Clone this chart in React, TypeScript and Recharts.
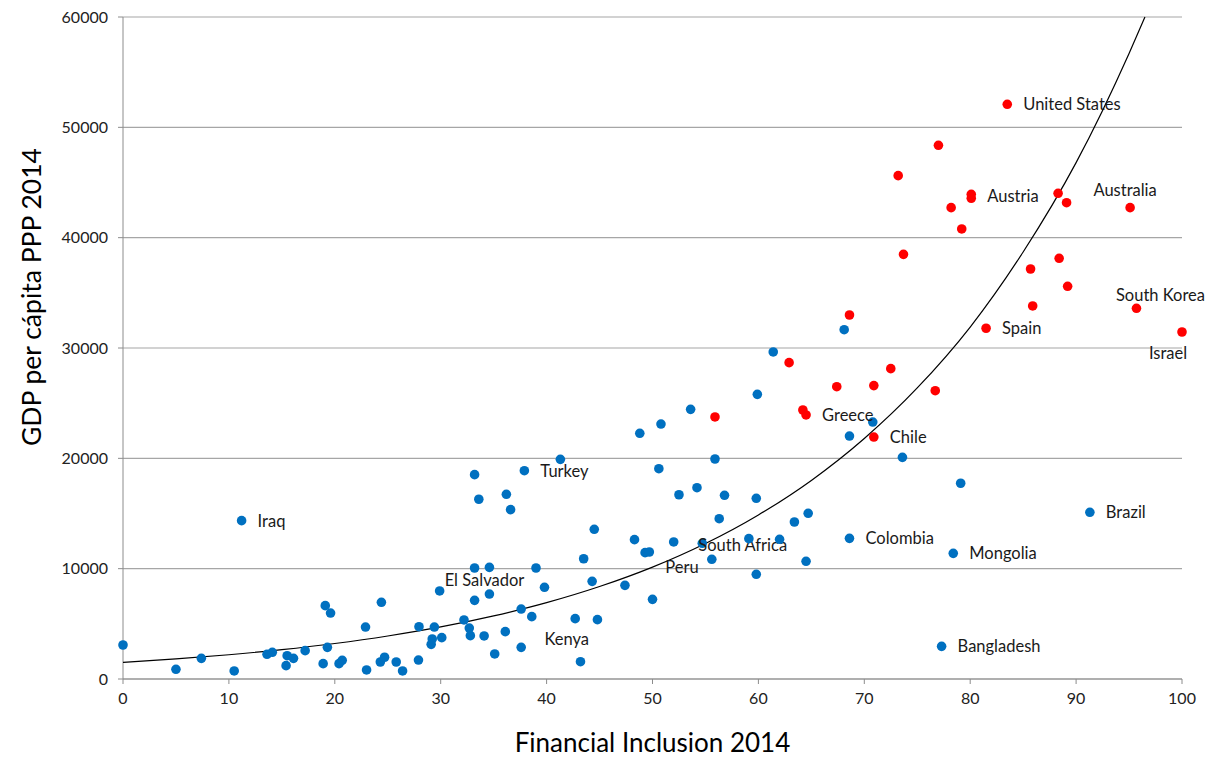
import { ScatterChart, Scatter, XAxis, YAxis, CartesianGrid } from "recharts";

// Financial inclusion (x) vs GDP per capita PPP (y), 2014
type Pt = { x: number; y: number; name?: string };

const blueCountries: Pt[] = [
  { x: 0, y: 3080 }, { x: 5.0, y: 880 }, { x: 7.4, y: 1870 }, { x: 10.5, y: 730 },
  { x: 11.2, y: 14350, name: "Iraq" }, { x: 13.6, y: 2240 }, { x: 14.1, y: 2420 },
  { x: 15.4, y: 1210 }, { x: 15.5, y: 2110 }, { x: 16.1, y: 1870 }, { x: 17.2, y: 2570 },
  { x: 18.9, y: 1390 }, { x: 19.1, y: 6650 }, { x: 19.3, y: 2870 }, { x: 19.6, y: 5980 },
  { x: 20.4, y: 1390 }, { x: 20.7, y: 1690 }, { x: 22.9, y: 4710 }, { x: 23.0, y: 820 },
  { x: 24.3, y: 1540 }, { x: 24.4, y: 6950 }, { x: 24.7, y: 1970 }, { x: 25.8, y: 1540 },
  { x: 26.4, y: 730 }, { x: 27.9, y: 1720 }, { x: 27.95, y: 4740 }, { x: 29.1, y: 3140 },
  { x: 29.2, y: 3630 }, { x: 29.4, y: 4710 }, { x: 29.9, y: 7980, name: "El Salvador" },
  { x: 30.1, y: 3750 }, { x: 32.2, y: 5350 }, { x: 32.7, y: 4620 }, { x: 32.8, y: 3930 },
  { x: 33.2, y: 10060 }, { x: 33.2, y: 7130 }, { x: 33.2, y: 18520 }, { x: 33.6, y: 16290 },
  { x: 34.1, y: 3900 }, { x: 34.6, y: 10120 }, { x: 34.6, y: 7700 }, { x: 35.1, y: 2270 },
  { x: 36.1, y: 4290 }, { x: 36.2, y: 16740 }, { x: 36.6, y: 15350 }, { x: 37.6, y: 6340 },
  { x: 37.6, y: 2870 }, { x: 37.9, y: 18880, name: "Turkey" }, { x: 38.6, y: 5650 },
  { x: 39.0, y: 10060 }, { x: 39.8, y: 8310 }, { x: 41.3, y: 19910 }, { x: 42.7, y: 5470 },
  { x: 43.2, y: 1570, name: "Kenya" }, { x: 43.5, y: 10900 }, { x: 44.3, y: 8850 },
  { x: 44.5, y: 13570 }, { x: 44.8, y: 5380 }, { x: 47.4, y: 8490 }, { x: 48.3, y: 12630 },
  { x: 48.8, y: 22270 }, { x: 49.3, y: 11450 }, { x: 49.7, y: 11510, name: "Peru" },
  { x: 50.0, y: 7220 }, { x: 50.6, y: 19060 }, { x: 50.8, y: 23110 }, { x: 52.0, y: 12420 },
  { x: 52.5, y: 16700 }, { x: 53.6, y: 24440 }, { x: 54.2, y: 17340 },
  { x: 54.7, y: 12300, name: "South Africa" }, { x: 55.6, y: 10850 }, { x: 55.9, y: 19940 },
  { x: 56.3, y: 14530 }, { x: 56.8, y: 16650 }, { x: 59.1, y: 12720 }, { x: 59.8, y: 16380 },
  { x: 59.8, y: 9490 }, { x: 59.9, y: 25800 }, { x: 61.4, y: 29640 }, { x: 62.0, y: 12660 },
  { x: 63.4, y: 14230 }, { x: 64.5, y: 10670 }, { x: 64.7, y: 15020 }, { x: 68.1, y: 31660 },
  { x: 68.6, y: 12750, name: "Colombia" }, { x: 68.6, y: 22020 }, { x: 70.8, y: 23290 },
  { x: 73.6, y: 20090 }, { x: 77.3, y: 2960, name: "Bangladesh" },
  { x: 78.4, y: 11390, name: "Mongolia" }, { x: 79.1, y: 17740 },
  { x: 91.3, y: 15110, name: "Brazil" },
];

const redCountries: Pt[] = [
  { x: 55.9, y: 23750 }, { x: 62.9, y: 28670 }, { x: 64.2, y: 24380 },
  { x: 64.5, y: 23930, name: "Greece" }, { x: 67.4, y: 26490 }, { x: 68.6, y: 32990 },
  { x: 70.9, y: 26590 }, { x: 70.9, y: 21930, name: "Chile" }, { x: 72.5, y: 28130 },
  { x: 73.2, y: 45620 }, { x: 73.7, y: 38490 }, { x: 76.7, y: 26130 }, { x: 77.0, y: 48370 },
  { x: 78.2, y: 42720 }, { x: 79.2, y: 40790 }, { x: 80.1, y: 43930, name: "Austria" },
  { x: 80.1, y: 43570 }, { x: 81.5, y: 31790, name: "Spain" },
  { x: 83.5, y: 52090, name: "United States" }, { x: 85.7, y: 37160 }, { x: 85.9, y: 33810 },
  { x: 88.3, y: 44020 }, { x: 88.4, y: 38130 }, { x: 89.1, y: 43170 }, { x: 89.2, y: 35590 },
  { x: 95.1, y: 42720, name: "Australia" }, { x: 95.7, y: 33600, name: "South Korea" },
  { x: 100, y: 31450, name: "Israel" },
];

// exponential trendline
const trendX = [0, 5, 10, 15, 20, 25, 30, 35, 40, 45, 50, 55, 60, 65, 70, 75, 80, 85, 90, 95, 96.5];
const trendY = [1500, 1820, 2200, 2660, 3220, 3900, 4720, 5720, 6920, 8380, 10140, 12280, 14870, 18000, 21800, 26380, 31900, 38700, 46800, 56700, 60000];
const trend = trendX.map((x, i) => ({ x, y: trendY[i] }));

const xTicks = [0, 10, 20, 30, 40, 50, 60, 70, 80, 90, 100];
const yTicks = [0, 10000, 20000, 30000, 40000, 50000, 60000];

// label placement tweaks
const labelOffset: Record<string, { dx: number; dy: number; anchor?: string }> = {
  Australia: { dx: -5, dy: -18, anchor: "middle" },
  "South Korea": { dx: 24, dy: -13, anchor: "middle" },
  Israel: { dx: -14, dy: 21, anchor: "middle" },
  Austria: { dx: 16, dy: 2 },
  "South Africa": { dx: -4, dy: 2 },
  Peru: { dx: 16, dy: 15 },
  "El Salvador": { dx: 5, dy: -11 },
  Kenya: { dx: -36, dy: -23 },
};

const FONT = "Lato, 'Open Sans', sans-serif";

const dot = (color: string) => (props: any) => {
  const { cx, cy, payload } = props;
  const name = payload?.name;
  const off = (name && labelOffset[name]) || { dx: 16, dy: 0 };
  return (
    <g>
      <circle cx={cx} cy={cy} r={4.8} fill={color} />
      {name && (
        <text
          x={cx + off.dx}
          y={cy + off.dy}
          textAnchor={off.anchor || "start"}
          dominantBaseline="central"
          fontSize={16.5}
          fontFamily={FONT}
          fill="#1a1a1a"
        >
          {name}
        </text>
      )}
    </g>
  );
};

const YTitle = (props: any) => {
  const vb = props.viewBox || { x: 0, y: 17, height: 662 };
  const cx = vb.x + 31;
  const cy = vb.y + vb.height / 2 - 51;
  return (
    <text
      transform={`translate(${cx}, ${cy}) rotate(-90)`}
      textAnchor="middle"
      dominantBaseline="central"
      fontSize={26.5}
      fontFamily={FONT}
      fill="#000"
    >
      GDP per cápita PPP 2014
    </text>
  );
};

export default function App() {
  return (
    <div style={{ position: "absolute", left: 0, top: 0, background: "#fff" }}>
      <ScatterChart width={1210} height={758} margin={{ top: 17, right: 28, bottom: 0, left: 0 }}>
        <CartesianGrid vertical={false} stroke="#a6a6a6" strokeWidth={1.2} />
        <XAxis
          type="number"
          dataKey="x"
          domain={[0, 100]}
          ticks={xTicks}
          height={79}
          stroke="#8c8c8c"
          tickSize={5}
          tickMargin={9}
          tick={{ fontSize: 16, fill: "#222", fontFamily: FONT }}
          label={{ value: "Financial Inclusion 2014", position: "insideBottom", offset: 6, fontSize: 26, fill: "#000", fontFamily: FONT }}
        />
        <YAxis
          type="number"
          dataKey="y"
          domain={[0, 60000]}
          ticks={yTicks}
          width={123}
          stroke="#8c8c8c"
          tickSize={5}
          tickMargin={10}
          tick={{ fontSize: 16, fill: "#222", fontFamily: FONT }}
          label={<YTitle />}
        />
        <Scatter
          data={trend}
          line={{ stroke: "#000", strokeWidth: 1.2 }}
          lineJointType="monotoneX"
          shape={() => <g />}
          isAnimationActive={false}
        />
        <Scatter data={blueCountries} shape={dot("#0070C0")} isAnimationActive={false} />
        <Scatter data={redCountries} shape={dot("#FF0000")} isAnimationActive={false} />
      </ScatterChart>
    </div>
  );
}
